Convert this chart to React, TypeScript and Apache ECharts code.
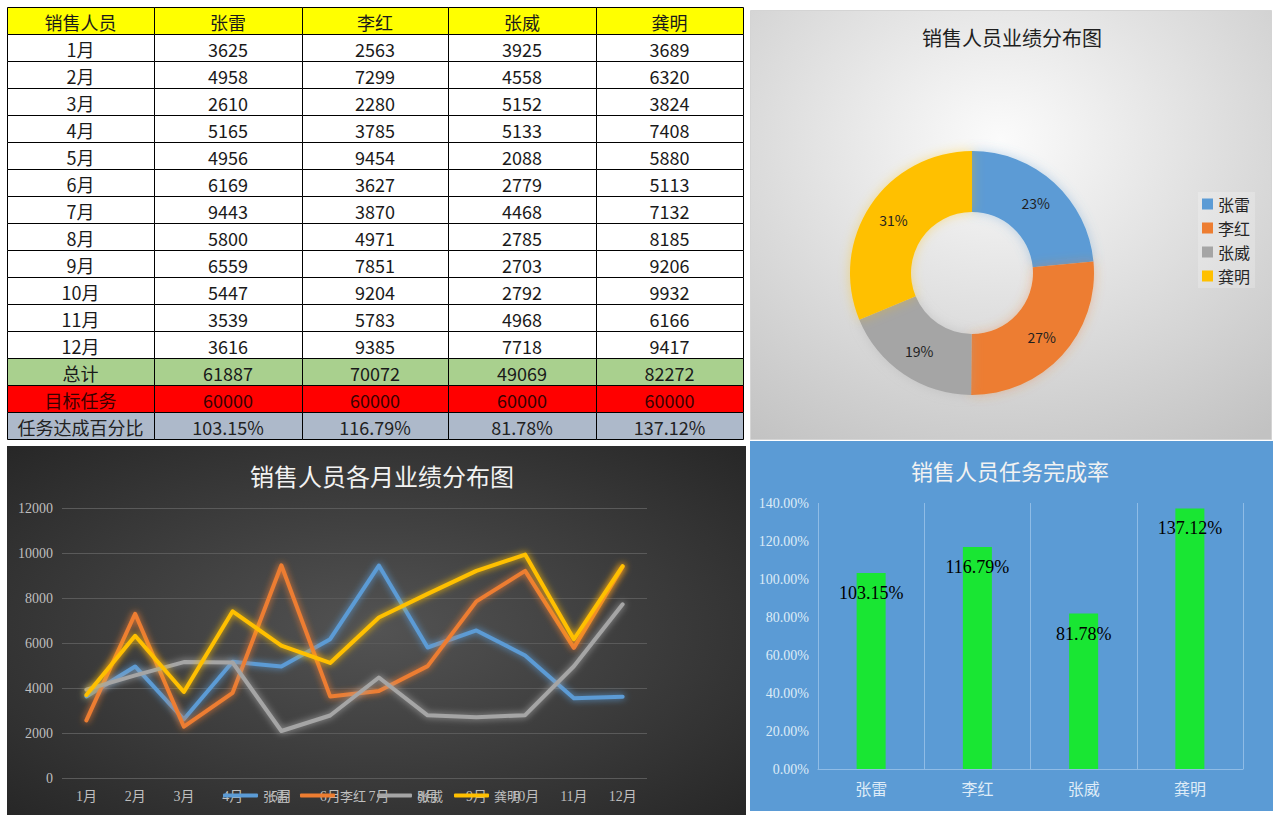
import React, { useEffect, useRef } from "react";
import * as echarts from "echarts";

// ---------- data ----------
const people = ["张雷", "李红", "张威", "龚明"];
const months = ["1月", "2月", "3月", "4月", "5月", "6月", "7月", "8月", "9月", "10月", "11月", "12月"];
const zhangLei = [3625, 4958, 2610, 5165, 4956, 6169, 9443, 5800, 6559, 5447, 3539, 3616];
const liHong = [2563, 7299, 2280, 3785, 9454, 3627, 3870, 4971, 7851, 9204, 5783, 9385];
const zhangWei = [3925, 4558, 5152, 5133, 2088, 2779, 4468, 2785, 2703, 2792, 4968, 7718];
const gongMing = [3689, 6320, 3824, 7408, 5880, 5113, 7132, 8185, 9206, 9932, 6166, 9417];
const totals = [61887, 70072, 49069, 82272];
const targets = [60000, 60000, 60000, 60000];
const rates = [103.15, 116.79, 81.78, 137.12];
const rateTexts = ["103.15%", "116.79%", "81.78%", "137.12%"];
const headerLabel = "销售人员";
const totalLabel = "总计";
const targetLabel = "目标任务";
const rateLabel = "任务达成百分比";
const pieTitle = "销售人员业绩分布图";
const lineTitle = "销售人员各月业绩分布图";
const barTitle = "销售人员任务完成率";
const seriesColors = ["#5B9BD5", "#ED7D31", "#A5A5A5", "#FFC000"];

const CJK = '"Noto Sans CJK SC", sans-serif';
const SERIF = '"Liberation Serif", "Noto Sans CJK SC", serif';

function buildTable(): any[] {
  const monthly = [zhangLei, liHong, zhangWei, gongMing];
  const rows: { cells: string[]; fill: string; color: string }[] = [];
  rows.push({ cells: [headerLabel, ...people], fill: "#FFFF00", color: "#1a1a1a" });
  months.forEach((m, i) => {
    rows.push({ cells: [m, ...monthly.map((s) => String(s[i]))], fill: "#FFFFFF", color: "#1a1a1a" });
  });
  rows.push({ cells: [totalLabel, ...totals.map(String)], fill: "#A9D08E", color: "#1a1a1a" });
  rows.push({ cells: [targetLabel, ...targets.map(String)], fill: "#FF0000", color: "#3a0000" });
  rows.push({ cells: [rateLabel, ...rateTexts], fill: "#ADB9CA", color: "#222222" });

  const colX = [7, 154, 302, 448, 596, 743];
  const top = 7;
  const rh = 27;
  const els: any[] = [];
  rows.forEach((row, r) => {
    row.cells.forEach((txt, c) => {
      els.push({
        type: "rect",
        shape: { x: colX[c] + 0.5, y: top + r * rh + 0.5, width: colX[c + 1] - colX[c], height: rh },
        style: { fill: row.fill, stroke: "#000", lineWidth: 1 },
      });
      els.push({
        type: "text",
        x: (colX[c] + colX[c + 1]) / 2,
        y: top + r * rh + rh / 2 + 1.5,
        style: {
          text: txt,
          fontSize: 18,
          fontFamily: CJK,
          fill: row.color,
          textAlign: "center",
          textVerticalAlign: "middle",
        },
      });
    });
  });
  return els;
}

export default function App() {
  const ref = useRef<HTMLDivElement>(null);
  useEffect(() => {
    if (!ref.current) return;
    const chart = echarts.init(ref.current, undefined, { renderer: "svg" });

    const backgrounds: any[] = [
      {
        type: "rect",
        z: -10,
        shape: { x: 750.5, y: 10.5, width: 521, height: 429 },
        style: {
          fill: new echarts.graphic.RadialGradient(0.48, 0.3, 0.85, [
            { offset: 0, color: "#fbfbfb" },
            { offset: 1, color: "#c2c2c2" },
          ]),
          stroke: "#d4d4d4",
          lineWidth: 1,
        },
      },
      {
        type: "rect",
        z: -10,
        shape: { x: 7, y: 446, width: 739, height: 369 },
        style: {
          fill: new echarts.graphic.RadialGradient(0.5, 0.5, 0.72, [
            { offset: 0, color: "#535353" },
            { offset: 1, color: "#262626" },
          ]),
        },
      },
      {
        type: "rect",
        z: -10,
        shape: { x: 750, y: 441, width: 523, height: 370 },
        style: { fill: "#5B9BD5" },
      },
    ];

    const monthly = [zhangLei, liHong, zhangWei, gongMing];

    const option: any = {
      animation: false,
      backgroundColor: "#ffffff",
      graphic: { elements: [...backgrounds, ...buildTable()] },
      title: [
        {
          text: pieTitle,
          left: 1007,
          top: 22,
          textAlign: "center",
          textStyle: { fontFamily: CJK, fontSize: 20, fontWeight: "normal", color: "#1f1f1f" },
        },
        {
          text: lineTitle,
          left: 377,
          top: 458,
          textAlign: "center",
          textStyle: { fontFamily: CJK, fontSize: 24, fontWeight: "normal", color: "#f2f2f2" },
        },
        {
          text: barTitle,
          left: 1005,
          top: 454,
          textAlign: "center",
          textStyle: { fontFamily: CJK, fontSize: 22, fontWeight: "normal", color: "#f2f2f2" },
        },
      ],
      legend: [
        {
          data: people,
          orient: "vertical",
          left: 1198,
          top: 192,
          padding: [4, 5, 4, 4],
          icon: "rect",
          itemWidth: 11,
          itemHeight: 11,
          itemGap: 8,
          backgroundColor: "rgba(255,255,255,0.22)",
          textStyle: { fontFamily: CJK, fontSize: 16, color: "#262626" },
          itemStyle: { borderWidth: 0, shadowBlur: 0 },
          selectedMode: false,
        },
        {
          data: people,
          orient: "horizontal",
          left: 223,
          top: 789,
          padding: 0,
          icon: "roundRect",
          itemWidth: 35,
          itemHeight: 4,
          itemGap: 11,
          textStyle: { fontFamily: CJK, fontSize: 13, color: "#bfbfbf" },
          itemStyle: { borderWidth: 0, shadowBlur: 0 },
          selectedMode: false,
        },
      ],
      grid: [
        { left: 62, right: 633, top: 508, bottom: 45 },
        { left: 818, right: 37, top: 503, bottom: 54 },
      ],
      xAxis: [
        {
          gridIndex: 0,
          type: "category",
          data: months,
          boundaryGap: true,
          axisLine: { show: false },
          axisTick: { show: false },
          splitLine: { show: false },
          axisLabel: { color: "#bfbfbf", fontSize: 14, fontFamily: SERIF, margin: 11, interval: 0 },
        },
        {
          gridIndex: 1,
          type: "category",
          data: people,
          boundaryGap: true,
          axisLine: { show: true, lineStyle: { color: "#8fbce6", width: 1 } },
          axisTick: { show: false },
          splitLine: { show: true, lineStyle: { color: "#8fbce6", width: 1 } },
          axisLabel: { color: "#deebf7", fontSize: 16, fontFamily: CJK, margin: 11, interval: 0 },
        },
      ],
      yAxis: [
        {
          gridIndex: 0,
          type: "value",
          min: 0,
          max: 12000,
          interval: 2000,
          axisLine: { show: false },
          axisTick: { show: false },
          splitLine: { show: true, lineStyle: { color: "#5a5a5a", width: 1 } },
          axisLabel: {
            color: "#bfbfbf",
            fontSize: 14,
            fontFamily: SERIF,
            margin: 9,
            formatter: (v: number) => String(v),
          },
        },
        {
          gridIndex: 1,
          type: "value",
          min: 0,
          max: 140,
          interval: 20,
          axisLine: { show: false },
          axisTick: { show: false },
          splitLine: { show: false },
          axisLabel: {
            color: "#deebf7",
            fontSize: 14,
            fontFamily: SERIF,
            margin: 9,
            formatter: (v: number) => v.toFixed(2) + "%",
          },
        },
      ],
      series: [
        {
          type: "pie",
          name: "业绩",
          center: [972, 273],
          radius: [61, 122],
          startAngle: 90,
          clockwise: true,
          percentPrecision: 0,
          avoidLabelOverlap: false,
          data: people.map((n, i) => ({
            name: n,
            value: totals[i],
            itemStyle: {
              color: seriesColors[i],
              shadowBlur: 12,
              shadowColor: seriesColors[i] + "66",
            },
          })),
          label: {
            show: true,
            position: "inside",
            formatter: "{d}%",
            fontFamily: CJK,
            fontSize: 14,
            color: "#1f1f1f",
          },
          labelLine: { show: false },
          emphasis: { disabled: true },
        },
        ...people.map((n, i) => ({
          type: "line",
          name: n,
          xAxisIndex: 0,
          yAxisIndex: 0,
          data: monthly[i],
          symbol: "none",
          showSymbol: false,
          color: seriesColors[i],
          lineStyle: {
            color: seriesColors[i],
            width: 4,
            cap: "round",
            join: "round",
            shadowBlur: 7,
            shadowColor: seriesColors[i],
          },
          emphasis: { disabled: true },
          z: 3,
        })),
        {
          type: "bar",
          name: "完成率",
          xAxisIndex: 1,
          yAxisIndex: 1,
          data: rates,
          barWidth: 29,
          itemStyle: { color: "#19e633" },
          label: {
            show: true,
            position: "insideTop",
            distance: 11,
            formatter: (p: any) => rateTexts[p.dataIndex],
            color: "#000000",
            fontSize: 18,
            fontFamily: SERIF,
          },
          emphasis: { disabled: true },
        },
      ],
    };

    chart.setOption(option);
    return () => chart.dispose();
  }, []);

  return (
    <div
      ref={ref}
      style={{ position: "absolute", left: 0, top: 0, width: 1280, height: 823 }}
    />
  );
}
